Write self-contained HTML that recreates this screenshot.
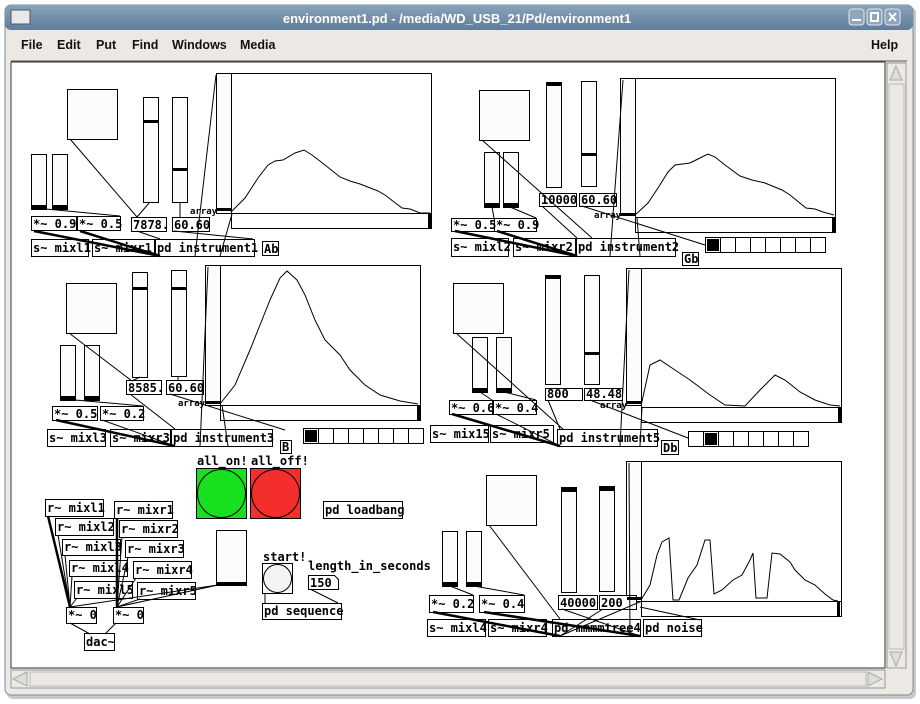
<!DOCTYPE html>
<html><head><meta charset="utf-8"><style>
html,body{margin:0;padding:0;background:#fff;width:920px;height:704px;overflow:hidden}
svg{display:block}
.t{font-family:"DejaVu Sans Mono","Liberation Mono",monospace;font-weight:bold;font-size:12px;fill:#000}
.m{font-family:"Liberation Sans",sans-serif;font-size:12.5px;fill:#111;font-weight:bold}
</style></head><body>
<svg width="920" height="704" viewBox="0 0 920 704" xmlns="http://www.w3.org/2000/svg">
<defs>
<linearGradient id="tb" x1="0" y1="0" x2="0" y2="1"><stop offset="0" stop-color="#8aa3bb"/><stop offset="1" stop-color="#5f7d99"/></linearGradient>
</defs>
<rect x="7" y="7" width="909" height="692" rx="6" fill="#c9c9c9"/>
<rect x="5" y="5" width="908" height="690" rx="6" fill="#ece9e4" stroke="#7a8a98"/>
<rect x="5" y="5" width="908" height="25" rx="6" fill="url(#tb)"/>
<rect x="11" y="10" width="19" height="14" fill="#e8e8e8" stroke="#556"/>
<text x="457" y="23" text-anchor="middle" font-family="Liberation Sans,sans-serif" font-weight="bold" font-size="13" fill="#fff">environment1.pd  - /media/WD_USB_21/Pd/environment1</text>
<g fill="#8ea5bb" stroke="#dfe8f0"><rect x="849" y="9" width="15" height="16" rx="3"/><rect x="867" y="9" width="15" height="16" rx="3"/><rect x="885" y="9" width="15" height="16" rx="3"/></g>
<g stroke="#fff" stroke-width="2" fill="none"><path d="M852 20h9"/><rect x="871" y="13" width="7" height="8"/><path d="M889 13l7 8M896 13l-7 8"/></g>
<text class="m" x="21" y="49">File</text><text class="m" x="57" y="49">Edit</text><text class="m" x="96" y="49">Put</text><text class="m" x="132" y="49">Find</text><text class="m" x="172" y="49">Windows</text><text class="m" x="240" y="49">Media</text><text class="m" x="871" y="49">Help</text>
<line x1="11" y1="61" x2="907" y2="61" stroke="#555"/>
<rect x="11" y="62" width="874" height="606" fill="#fff" stroke="#333"/>
<rect x="887" y="63" width="19" height="605" fill="#ece9e4" stroke="#999"/>
<rect x="889" y="84" width="15" height="565" fill="#ece9e4" stroke="#bbb"/>
<path d="M890 80l6-14 6 14z M890 652l6 14 6-14z" fill="#ddd" stroke="#aaa"/>
<rect x="11" y="670" width="874" height="18" fill="#ece9e4" stroke="#999"/>
<rect x="30" y="672" width="836" height="14" fill="#ece9e4" stroke="#bbb"/>
<path d="M27 672l-14 7 14 7z M868 672l14 7-14 7z" fill="#ddd" stroke="#aaa"/>

<g fill="#fff" stroke="#000" stroke-width="1">
<rect x="67.5" y="89.5" width="50" height="50" fill="#fcfcfc"/>
<rect x="31.5" y="154.5" width="15" height="55" fill="#fcfcfc"/><rect x="52.5" y="154.5" width="15" height="55" fill="#fcfcfc"/>
<rect x="143.5" y="97.5" width="15" height="105" fill="#fcfcfc"/><rect x="172.5" y="97.5" width="15" height="105" fill="#fcfcfc"/>
<rect x="216.5" y="73.5" width="15" height="140" fill="#fcfcfc"/>
<rect x="231.5" y="73.5" width="200" height="155"/><line x1="231" y1="213.5" x2="431" y2="213.5"/>
<rect x="31.5" y="216.5" width="45" height="14"/><rect x="77.5" y="216.5" width="43" height="14"/>
<rect x="131.5" y="217.5" width="35" height="14"/><rect x="172.5" y="217.5" width="37" height="14"/>
<rect x="31.5" y="239.5" width="57" height="17"/><rect x="92.5" y="239.5" width="62" height="17"/><rect x="155.5" y="239.5" width="99" height="17"/><rect x="262.5" y="241.5" width="16" height="14"/>
<rect x="479.5" y="90.5" width="50" height="50" fill="#fcfcfc"/>
<rect x="484.5" y="152.5" width="15" height="55" fill="#fcfcfc"/><rect x="503.5" y="152.5" width="15" height="55" fill="#fcfcfc"/>
<rect x="546.5" y="82.5" width="15" height="105" fill="#fcfcfc"/><rect x="581.5" y="81.5" width="15" height="105" fill="#fcfcfc"/>
<rect x="620.5" y="78.5" width="15" height="137" fill="#fcfcfc"/>
<rect x="635.5" y="78.5" width="200" height="154"/><line x1="635" y1="217.5" x2="835" y2="217.5"/>
<rect x="539.5" y="193.5" width="37" height="13"/><rect x="579.5" y="193.5" width="37" height="13"/>
<rect x="451.5" y="218.5" width="43" height="13"/><rect x="494.5" y="218.5" width="42" height="13"/>
<rect x="451.5" y="238.5" width="57" height="18"/><rect x="513.5" y="238.5" width="62" height="18"/><rect x="576.5" y="238.5" width="99" height="18"/><rect x="682.5" y="252.5" width="16" height="13"/>
<rect x="705.5" y="237.5" width="120" height="15"/>
<rect x="66.5" y="283.5" width="50" height="50" fill="#fcfcfc"/>
<rect x="60.5" y="345.5" width="15" height="55" fill="#fcfcfc"/><rect x="84.5" y="345.5" width="15" height="55" fill="#fcfcfc"/>
<rect x="132.5" y="272.5" width="15" height="105" fill="#fcfcfc"/><rect x="171.5" y="270.5" width="15" height="106" fill="#fcfcfc"/>
<rect x="205.5" y="265.5" width="15" height="140" fill="#fcfcfc"/>
<rect x="220.5" y="265.5" width="200" height="155"/><line x1="220" y1="405.5" x2="420" y2="405.5"/>
<rect x="126.5" y="380.5" width="35" height="14"/><rect x="166.5" y="380.5" width="37" height="14"/>
<rect x="52.5" y="406.5" width="45" height="14"/><rect x="100.5" y="406.5" width="43" height="14"/>
<rect x="47.5" y="429.5" width="58" height="17"/><rect x="110.5" y="429.5" width="60" height="17"/><rect x="171.5" y="429.5" width="101" height="17"/><rect x="280.5" y="440.5" width="11" height="13"/>
<rect x="303.5" y="428.5" width="120" height="15"/>
<rect x="453.5" y="283.5" width="50" height="50" fill="#fcfcfc"/>
<rect x="472.5" y="337.5" width="15" height="55" fill="#fcfcfc"/><rect x="496.5" y="337.5" width="15" height="55" fill="#fcfcfc"/>
<rect x="545.5" y="275.5" width="15" height="109" fill="#fcfcfc"/><rect x="584.5" y="275.5" width="15" height="109" fill="#fcfcfc"/>
<rect x="626.5" y="268.5" width="15" height="137" fill="#fcfcfc"/>
<rect x="641.5" y="268.5" width="200" height="154"/><line x1="641" y1="407.5" x2="841" y2="407.5"/>
<rect x="545.5" y="388.5" width="37" height="12"/><rect x="584.5" y="388.5" width="38" height="12"/>
<rect x="449.5" y="400.5" width="43" height="14"/><rect x="493.5" y="400.5" width="43" height="14"/>
<rect x="430.5" y="425.5" width="58" height="17"/><rect x="490.5" y="425.5" width="63" height="17"/><rect x="557.5" y="429.5" width="100" height="17"/><rect x="661.5" y="440.5" width="17" height="14"/>
<rect x="688.5" y="431.5" width="120" height="15"/>
<rect x="486.5" y="475.5" width="50" height="50" fill="#fcfcfc"/>
<rect x="442.5" y="531.5" width="15" height="55" fill="#fcfcfc"/><rect x="466.5" y="531.5" width="15" height="55" fill="#fcfcfc"/>
<rect x="561.5" y="487.5" width="15" height="105" fill="#fcfcfc"/><rect x="599.5" y="486.5" width="15" height="105" fill="#fcfcfc"/>
<rect x="626.5" y="461.5" width="15" height="140" fill="#fcfcfc"/>
<rect x="641.5" y="461.5" width="200" height="155"/><line x1="641" y1="601.5" x2="841" y2="601.5"/>
<rect x="558.5" y="595.5" width="39" height="14"/><rect x="599.5" y="595.5" width="37" height="14"/>
<rect x="429.5" y="595.5" width="44" height="17"/><rect x="479.5" y="595.5" width="45" height="17"/>
<rect x="427.5" y="619.5" width="58" height="17"/><rect x="488.5" y="619.5" width="58" height="17"/><rect x="552.5" y="619.5" width="88" height="17"/><rect x="643.5" y="619.5" width="58" height="17"/>
<rect x="45.5" y="499.5" width="58" height="17"/><rect x="55.5" y="518.5" width="58" height="17"/><rect x="62.5" y="539.5" width="58" height="16"/><rect x="69.5" y="560.5" width="58" height="16"/><rect x="74.5" y="581.5" width="58" height="17"/>
<rect x="114.5" y="501.5" width="58" height="17"/><rect x="119.5" y="520.5" width="58" height="17"/><rect x="125.5" y="540.5" width="58" height="17"/><rect x="133.5" y="561.5" width="58" height="17"/><rect x="137.5" y="582.5" width="58" height="17"/>
<rect x="66.5" y="607.5" width="30" height="16"/><rect x="113.5" y="607.5" width="30" height="16"/><rect x="84.5" y="633.5" width="30" height="17"/>
<rect x="196.5" y="468.5" width="50" height="50" fill="#18e01f"/><circle cx="221.5" cy="493.5" r="24" fill="#18e01f"/>
<rect x="250.5" y="468.5" width="50" height="50" fill="#f42d2d"/><circle cx="275.5" cy="493.5" r="24" fill="#f42d2d"/>
<rect x="323.5" y="501.5" width="79" height="17"/>
<rect x="216.5" y="530.5" width="30" height="55" fill="#fcfcfc"/>
<rect x="262.5" y="563.5" width="30" height="30" fill="#fcfcfc"/><circle cx="277.5" cy="578.5" r="14" fill="#f4f4f4"/>
<rect x="262.5" y="603.5" width="79" height="16"/>
<path d="M308.5 575.5h26l4 4v10h-30z"/>
</g>

<g fill="#000">
<rect x="32" y="205" width="14" height="4"/><rect x="53" y="205" width="14" height="4"/>
<rect x="144" y="120" width="14" height="3"/><rect x="173" y="168" width="14" height="3"/>
<rect x="217" y="208" width="14" height="3"/><rect x="428" y="214" width="3" height="14"/>
<rect x="485" y="203" width="14" height="4"/><rect x="504" y="203" width="14" height="4"/>
<rect x="547" y="83" width="14" height="3"/><rect x="582" y="153" width="14" height="3"/>
<rect x="621" y="213" width="14" height="3"/><rect x="832" y="217" width="3" height="15"/>
<rect x="707" y="239" width="12" height="12"/>
<rect x="61" y="396" width="14" height="4"/><rect x="85" y="396" width="14" height="4"/>
<rect x="133" y="287" width="14" height="3"/><rect x="172" y="287" width="14" height="3"/>
<rect x="206" y="401" width="14" height="3"/><rect x="417" y="405" width="3" height="15"/>
<rect x="305" y="430" width="12" height="12"/>
<rect x="473" y="388" width="14" height="4"/><rect x="497" y="388" width="14" height="4"/>
<rect x="546" y="276" width="14" height="3"/><rect x="585" y="352" width="14" height="3"/>
<rect x="627" y="401" width="14" height="3"/><rect x="838" y="407" width="3" height="15"/>
<rect x="705" y="433" width="12" height="12"/>
<rect x="443" y="582" width="14" height="4"/><rect x="467" y="582" width="14" height="4"/>
<rect x="562" y="488" width="14" height="4"/><rect x="600" y="487" width="14" height="4"/>
<rect x="627" y="597" width="14" height="3"/><rect x="837" y="601" width="3" height="15"/>
<rect x="217" y="582" width="29" height="3"/>
</g>
<g stroke="#000" fill="none">
<path d="M720.5 237v15M735.5 237v15M750.5 237v15M765.5 237v15M780.5 237v15M795.5 237v15M810.5 237v15"/>
<path d="M318.5 428v15M333.5 428v15M348.5 428v15M363.5 428v15M378.5 428v15M393.5 428v15M408.5 428v15"/>
<path d="M703.5 431v15M718.5 431v15M733.5 431v15M748.5 431v15M763.5 431v15M778.5 431v15M793.5 431v15"/>
</g>
<g fill="none" stroke="#000" stroke-width="1">
<polyline points="231,212 245,198 258,178 268,165 275,161 283,160 295,153 304,150 312,155 325,165 340,177 350,181 360,184 378,191 385,195 402,208 410,209 420,213 430,213"/>
<polyline points="635,215 648,203 658,188 668,172 675,165 690,163 700,158 708,154 715,157 725,165 740,176 752,180 765,183 782,190 790,195 806,208 815,209 823,212 834,215"/>
<polyline points="220,404 235,385 250,350 262,320 270,300 280,278 287,271 297,280 305,295 315,320 325,340 340,355 350,370 365,385 380,395 400,401 418,404"/>
<polyline points="641,406 650,365 660,360 675,370 690,380 710,395 725,405 745,406 760,390 775,375 785,380 800,392 815,400 830,405 840,406"/>
<polyline points="641,600 650,585 657,555 662,542 669,538 673,600 679,600 688,578 697,565 705,540 710,540 714,594 722,590 733,580 742,575 750,560 753,553 756,598 767,598 772,553 780,554 790,562 795,570 805,580 815,585 825,594 833,600 838,601"/>
</g>
<g stroke="#000" fill="none" stroke-width="1">
<path d="M70 139L137 217M150 202L137 217M180 202V217M46 209L120 216M34 231L160 256M80 231L160 256M137 231L160 239M174 231L253 239M216 75L195 256M232 214L220 256"/>
<path d="M482 140L592 238M492 207L494 218M510 207L536 218M455 231L577 256M497 231L577 256M542 206L577 238M582 206L705 245M623 80L610 256M637 218L640 256"/>
<path d="M69 333L132 381M140 377L132 381M178 376V381M75 400L143 406M56 420L175 446M102 420L175 446M130 394L175 429M170 394L285 430M208 267L200 446M222 405L228 446"/>
<path d="M456 333L564 430M480 392L492 400M504 392L536 400M452 414L560 446M496 414L560 446M548 400L560 429M590 400L688 438M629 270L620 446M642 407L640 446"/>
<path d="M489 525L560 619M450 586L473 595M474 586L524 595M433 612L560 636M484 612L640 636M562 609L640 636M603 609L560 636M629 463L630 636M642 601L560 636M640 607L700 620"/>
<path d="M48 516L70 607M58 535L70 607M65 555L70 607M72 576L70 607M77 598L70 607M117 518L117 607M122 537L117 607M128 557L117 607M136 578L117 607M140 599L117 607M218 585L70 607M218 585L117 607M70 623L90 634M116 623L105 634M265 593V603M310 589L338 603"/>
</g>
<g stroke="#000" stroke-width="2.5" fill="none">
<path d="M34 231L160 256M80 231L160 256M455 231L577 256M497 231L577 256M56 420L175 446M452 414L560 446M433 612L560 636M484 612L640 636M48 516L70 607M117 518L117 607"/>
</g>

<g class="t">
<text x="33" y="228">*~ 0.9</text><text x="79" y="228">*~ 0.5</text><text x="133" y="229">7878.</text><text x="174" y="229">60.60</text>
<text x="190" y="214" font-size="9">array</text>
<text x="33" y="252">s~ mixl1</text><text x="94" y="252">s~ mixr1</text><text x="157" y="252">pd instrument1</text><text x="264" y="253">Ab</text>
<text x="541" y="204">10000</text><text x="581" y="204">60.60</text><text x="594" y="218" font-size="9">array</text>
<text x="453" y="229">*~ 0.5</text><text x="496" y="229">*~ 0.9</text>
<text x="453" y="251">s~ mixl2</text><text x="515" y="251">s~ mixr2</text><text x="578" y="251">pd instrument2</text><text x="684" y="263">Gb</text>
<text x="128" y="392">8585.</text><text x="168" y="392">60.60</text><text x="178" y="406" font-size="9">array</text>
<text x="54" y="418">*~ 0.5</text><text x="102" y="418">*~ 0.2</text>
<text x="49" y="442">s~ mixl3</text><text x="112" y="442">s~ mixr3</text><text x="173" y="442">pd instrument3</text><text x="282" y="451">B</text>
<text x="547" y="398">800</text><text x="586" y="398">48.48</text><text x="600" y="408" font-size="9">array</text>
<text x="451" y="412">*~ 0.6</text><text x="495" y="412">*~ 0.4</text>
<text x="432" y="438">s~ mix15</text><text x="492" y="438">s~ mixr5</text><text x="559" y="442">pd instrument5</text><text x="663" y="452">Db</text>
<text x="560" y="607">40000</text><text x="601" y="607">200</text>
<text x="431" y="608">*~ 0.2</text><text x="481" y="608">*~ 0.4</text>
<text x="429" y="632">s~ mixl4</text><text x="490" y="632">s~ mixr4</text><text x="554" y="632">pd mmmmtree4</text><text x="645" y="632">pd noise</text>
<text x="47" y="512">r~ mixl1</text><text x="57" y="531">r~ mixl2</text><text x="64" y="551">r~ mixl3</text><text x="71" y="572">r~ mixl4</text><text x="76" y="594">r~ mixl5</text>
<text x="116" y="514">r~ mixr1</text><text x="121" y="533">r~ mixr2</text><text x="127" y="553">r~ mixr3</text><text x="135" y="574">r~ mixr4</text><text x="139" y="595">r~ mixr5</text>
<text x="68" y="619">*~ 0</text><text x="115" y="619">*~ 0</text><text x="86" y="646">dac~</text>
<text x="197" y="465">all_on!</text><text x="251" y="465">all_off!</text>
<text x="325" y="514">pd loadbang</text>
<text x="263" y="561">start!</text><text x="308" y="570">length_in_seconds</text><text x="310" y="587">150</text>
<text x="264" y="615">pd sequence</text>
</g>
</svg>
</body></html>
